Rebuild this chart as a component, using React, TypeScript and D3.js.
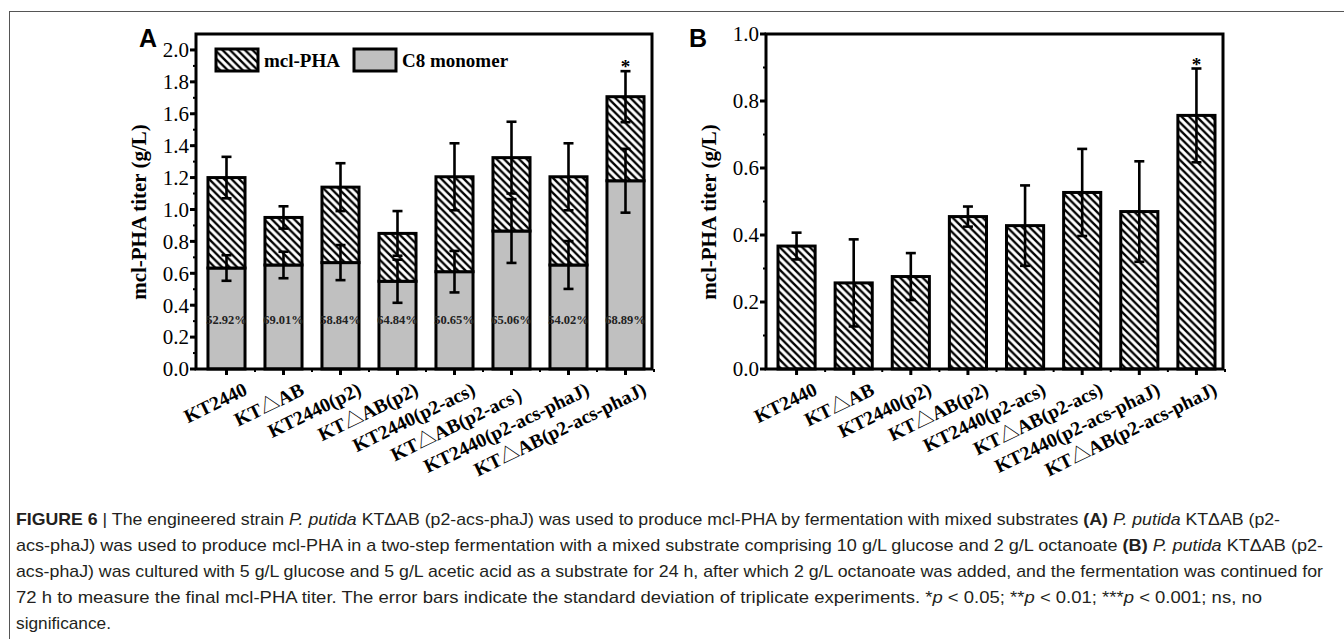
import React from "react";
import * as d3 from "d3";

const W = 1344;
const H = 639;

const catsA = [
  "KT2440",
  "KT△AB",
  "KT2440(p2)",
  "KT△AB(p2)",
  "KT2440(p2-acs)",
  "KT△AB(p2-acs）",
  "KT2440(p2-acs-phaJ)",
  "KT△AB(p2-acs-phaJ)",
];
const catsB = [
  "KT2440",
  "KT△AB",
  "KT2440(p2)",
  "KT△AB(p2)",
  "KT2440(p2-acs)",
  "KT△AB(p2-acs)",
  "KT2440(p2-acs-phaJ)",
  "KT△AB(p2-acs-phaJ)",
];

// panel A: total mcl-PHA and C8 monomer part (g/L)
const totalA = [1.2, 0.95, 1.14, 0.85, 1.205, 1.325, 1.205, 1.707];
const totalErrA = [0.13, 0.07, 0.15, 0.14, 0.21, 0.225, 0.21, 0.16];
const c8A = [0.633, 0.652, 0.667, 0.55, 0.61, 0.865, 0.652, 1.18];
const c8ErrA = [0.08, 0.083, 0.11, 0.135, 0.13, 0.2, 0.15, 0.2];
const pctA = ["52.92%", "69.01%", "58.84%", "64.84%", "50.65%", "65.06%", "54.02%", "68.89%"];
const starA = ["", "", "", "", "", "", "", "*"];
const ticksA = [0, 0.2, 0.4, 0.6, 0.8, 1.0, 1.2, 1.4, 1.6, 1.8, 2.0];

// panel B: mcl-PHA titer (g/L)
const valB = [0.367, 0.257, 0.276, 0.455, 0.428, 0.527, 0.47, 0.757];
const errB = [0.04, 0.13, 0.07, 0.03, 0.12, 0.13, 0.15, 0.14];
const starB = ["", "", "", "", "", "", "", "*"];
const ticksB = [0, 0.2, 0.4, 0.6, 0.8, 1.0];

const SERIF = "'Liberation Serif', 'Times New Roman', serif";
const SANS = "'Liberation Sans', Arial, sans-serif";
const CJK = "'Noto Sans CJK SC', 'DejaVu Sans', sans-serif";
const GRAY = "#c0c0c0";

const TOP = 34;
const BOTTOM = 369;

function ErrBar({ x, y0, y1 }: { x: number; y0: number; y1: number }) {
  const cap = 5;
  return (
    <g stroke="#000" strokeWidth={2.6}>
      <line x1={x} x2={x} y1={y0} y2={y1} />
      <line x1={x - cap} x2={x + cap} y1={y0} y2={y0} />
      <line x1={x - cap} x2={x + cap} y1={y1} y2={y1} />
    </g>
  );
}

// strain label: the triangle is a full-width glyph in the source figure
function StrainLabel({ text }: { text: string }) {
  const parts = text.split("△");
  if (parts.length === 1) return <>{text}</>;
  return (
    <>
      {parts[0]}
      <tspan fontFamily={CJK} fontWeight="normal">
        △
      </tspan>
      {parts[1]}
    </>
  );
}

function Frame({ x0, x1, y, ticks, cats, xs, label, letter, letterX }: any) {
  const step = xs.step();
  const minorY = d3.range(0, ticks[ticks.length - 1] + 0.05, 0.1);
  return (
    <g>
      {minorY.map((t: number, i: number) => (
        <line key={"my" + i} x1={x0 - 3} x2={x0} y1={y(t)} y2={y(t)} stroke="#000" strokeWidth={2} />
      ))}
      {ticks.map((t: number) => (
        <g key={"t" + t}>
          <line x1={x0 - 6} x2={x0} y1={y(t)} y2={y(t)} stroke="#000" strokeWidth={3} />
          <text x={x0 - 7} y={y(t)} dy="0.35em" textAnchor="end" fontFamily={SERIF} fontSize={21}>
            {t.toFixed(1)}
          </text>
        </g>
      ))}
      {cats.map((c: string, i: number) => {
        const cx = xs(c) + xs.bandwidth() / 2;
        return (
          <g key={"x" + i}>
            <line x1={cx} x2={cx} y1={BOTTOM} y2={BOTTOM + 6} stroke="#000" strokeWidth={3} />
            <line x1={cx + step / 2} x2={cx + step / 2} y1={BOTTOM} y2={BOTTOM + 3} stroke="#000" strokeWidth={2} />
            <text
              transform={`translate(${cx + 22},${BOTTOM + 25}) rotate(-26)`}
              textAnchor="end"
              fontFamily={SERIF}
              fontWeight="bold"
              fontSize={19.5}
            >
              <StrainLabel text={c} />
            </text>
          </g>
        );
      })}
      <rect x={x0} y={TOP} width={x1 - x0} height={BOTTOM - TOP} fill="none" stroke="#000" strokeWidth={3} />
      <text
        transform={`translate(${x0 - 50},212) rotate(-90)`}
        textAnchor="middle"
        fontFamily={SERIF}
        fontWeight="bold"
        fontSize={21}
      >
        {label}
      </text>
      <text x={letterX} y={47} fontFamily={SANS} fontWeight="bold" fontSize={25}>
        {letter}
      </text>
    </g>
  );
}

export default function App() {
  const xA = d3.scaleBand<string>().domain(catsA).range([196, 652]).paddingInner(0.35).paddingOuter(0.175).align(0.6);
  const yA = d3.scaleLinear().domain([0, 2.1]).range([BOTTOM, TOP]);
  const xB = d3.scaleBand<string>().domain(catsB).range([766, 1223]).paddingInner(0.35).paddingOuter(0.175).align(0.6);
  const yB = d3.scaleLinear().domain([0, 1.0]).range([BOTTOM, TOP]);
  const bwA = xA.bandwidth();
  const bwB = xB.bandwidth();

  const capStyle = { fontFamily: SANS, fontSize: 17, fill: "#231f20" };

  return (
    <svg width={W} height={H} style={{ position: "absolute", left: 0, top: 0, background: "#fff" }}>
      <defs>
        <pattern id="hatch" patternUnits="userSpaceOnUse" width={7.5} height={7.5}>
          <rect width={7.5} height={7.5} fill="#fff" />
          <path d="M0,0 L7.5,7.5 M-2,5.5 L2,9.5 M5.5,-2 L9.5,2" stroke="#000" strokeWidth={2.3} />
        </pattern>
      </defs>
      <rect x={9.5} y={11.5} width={W + 20} height={H + 20} fill="none" stroke="#555" strokeWidth={1} />

      {/* ---------- Panel A ---------- */}
      <g>
        {catsA.map((c, i) => {
          const x = xA(c)!;
          return (
            <g key={c}>
              <rect x={x} y={yA(c8A[i])} width={bwA} height={BOTTOM - yA(c8A[i])} fill={GRAY} stroke="#000" strokeWidth={3} />
              <rect
                x={x}
                y={yA(totalA[i])}
                width={bwA}
                height={yA(c8A[i]) - yA(totalA[i])}
                fill="url(#hatch)"
                stroke="#000"
                strokeWidth={3}
              />
            </g>
          );
        })}
        {catsA.map((c, i) => {
          const cx = xA(c)! + bwA / 2;
          return (
            <g key={"e" + c}>
              <ErrBar x={cx} y0={yA(totalA[i] + totalErrA[i])} y1={yA(totalA[i] - totalErrA[i])} />
              <ErrBar x={cx} y0={yA(c8A[i] + c8ErrA[i])} y1={yA(c8A[i] - c8ErrA[i])} />
              <text x={cx} y={yA(0.31)} dy="0.35em" textAnchor="middle" fontFamily={SERIF} fontWeight="bold" fontSize={12.5} fill="#222">
                {pctA[i]}
              </text>
              {starA[i] && (
                <text x={cx} y={yA(totalA[i] + totalErrA[i]) + 2} textAnchor="middle" fontFamily={SERIF} fontWeight="bold" fontSize={19}>
                  {starA[i]}
                </text>
              )}
            </g>
          );
        })}
        <Frame x0={196} x1={652} y={yA} ticks={ticksA} cats={catsA} xs={xA} label="mcl-PHA titer (g/L)" letter="A" letterX={139} />
        <rect x={216} y={49} width={42} height={22} fill="url(#hatch)" stroke="#000" strokeWidth={3} />
        <text x={264} y={67} fontFamily={SERIF} fontWeight="bold" fontSize={19}>
          mcl-PHA
        </text>
        <rect x={354} y={49} width={42} height={22} fill={GRAY} stroke="#000" strokeWidth={3} />
        <text x={402} y={67} fontFamily={SERIF} fontWeight="bold" fontSize={19}>
          C8 monomer
        </text>
      </g>

      {/* ---------- Panel B ---------- */}
      <g>
        {catsB.map((c, i) => {
          const x = xB(c)!;
          const cx = x + bwB / 2;
          return (
            <g key={c}>
              <rect x={x} y={yB(valB[i])} width={bwB} height={BOTTOM - yB(valB[i])} fill="url(#hatch)" stroke="#000" strokeWidth={3} />
              <ErrBar x={cx} y0={yB(valB[i] + errB[i])} y1={yB(valB[i] - errB[i])} />
              {starB[i] && (
                <text x={cx} y={yB(valB[i] + errB[i]) + 2} textAnchor="middle" fontFamily={SERIF} fontWeight="bold" fontSize={19}>
                  {starB[i]}
                </text>
              )}
            </g>
          );
        })}
        <Frame x0={766} x1={1223} y={yB} ticks={ticksB} cats={catsB} xs={xB} label="mcl-PHA titer (g/L)" letter="B" letterX={689} />
      </g>

      {/* ---------- caption ---------- */}
      <g {...capStyle}>
        <text x={16} y={525} textLength={1264} lengthAdjust="spacingAndGlyphs">
          <tspan fontWeight="bold">FIGURE 6</tspan> | The engineered strain <tspan fontStyle="italic">P. putida</tspan> KTΔAB (p2-acs-phaJ) was used to produce mcl-PHA by fermentation with mixed substrates <tspan fontWeight="bold">(A)</tspan> <tspan fontStyle="italic">P. putida</tspan> KTΔAB (p2-
        </text>
        <text x={16} y={551} textLength={1307} lengthAdjust="spacingAndGlyphs">
          acs-phaJ) was used to produce mcl-PHA in a two-step fermentation with a mixed substrate comprising 10 g/L glucose and 2 g/L octanoate <tspan fontWeight="bold">(B)</tspan> <tspan fontStyle="italic">P. putida</tspan> KTΔAB (p2-
        </text>
        <text x={16} y={577} textLength={1307} lengthAdjust="spacingAndGlyphs">
          acs-phaJ) was cultured with 5 g/L glucose and 5 g/L acetic acid as a substrate for 24 h, after which 2 g/L octanoate was added, and the fermentation was continued for
        </text>
        <text x={16} y={603} textLength={1246} lengthAdjust="spacingAndGlyphs">
          72 h to measure the final mcl-PHA titer. The error bars indicate the standard deviation of triplicate experiments. *<tspan fontStyle="italic">p</tspan> &lt; 0.05; **<tspan fontStyle="italic">p</tspan> &lt; 0.01; ***<tspan fontStyle="italic">p</tspan> &lt; 0.001; ns, no
        </text>
        <text x={16} y={629} textLength={95} lengthAdjust="spacingAndGlyphs">
          significance.
        </text>
      </g>
    </svg>
  );
}
